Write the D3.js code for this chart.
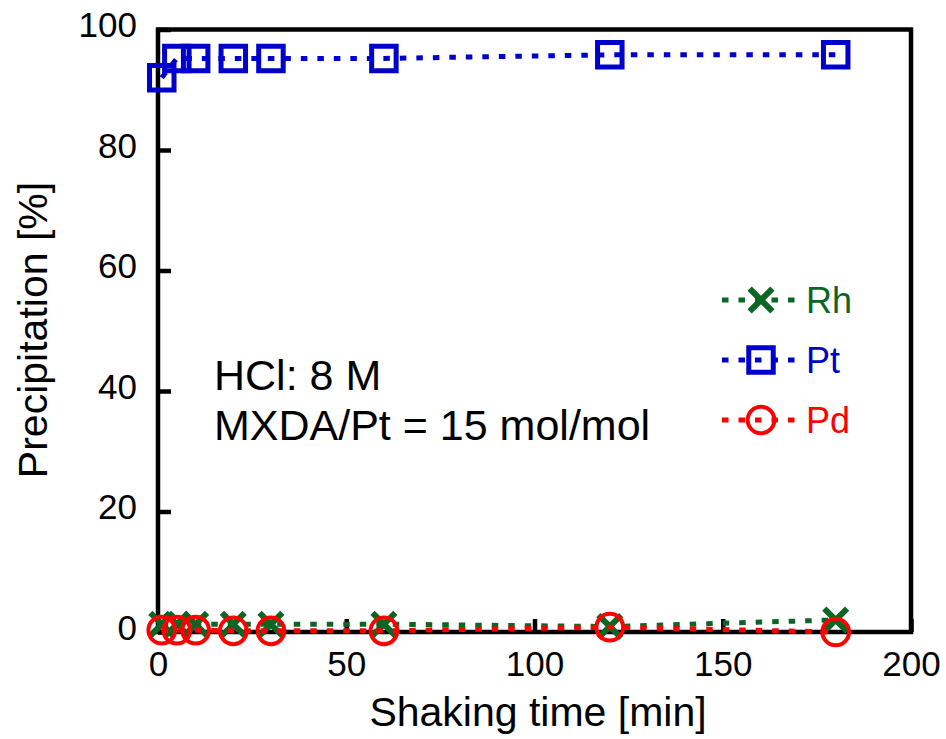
<!DOCTYPE html>
<html>
<head>
<meta charset="utf-8">
<script src="https://cdnjs.cloudflare.com/ajax/libs/d3/7.8.5/d3.min.js"></script>
<style>
	body { margin: 0; background: #ffffff; }
	text { font-family: "Liberation Sans", Arial, sans-serif; }
</style>
</head>
<body>
<div id="chart"></div>
<script>
// shaking time [min]
var times = [1, 5, 10, 20, 30, 60, 120, 180];
// precipitation [%]
var pt_vals = [92.0, 95.2, 95.2, 95.2, 95.2, 95.2, 95.8, 95.8];
var rh_vals = [1.3, 1.3, 1.3, 1.3, 1.3, 1.3, 0.9, 2.0];
var pd_vals = [0.3, 0.3, 0.3, 0.2, 0.2, 0.2, 0.8, 0.0];

var x_ticks = [0, 50, 100, 150, 200];
var y_ticks = [0, 20, 40, 60, 80, 100];
var series_names = ["Rh", "Pt", "Pd"];
var note_lines = ["HCl: 8 M", "MXDA/Pt = 15 mol/mol"];

var w = 946, h = 739;
var margin = {top: 29.5, right: 35, bottom: 107, left: 158};

var colors = {Rh: "#0b6623", Pt: "#0000cc", Pd: "#ff0000"};

// hollow X marker, d3 style symbol type
var symbol_x = {
	draw: function(ctx, size) {
		var r = Math.sqrt(size) / 2;
		ctx.moveTo(-r, -r);
		ctx.lineTo(r, r);
		ctx.moveTo(-r, r);
		ctx.lineTo(r, -r);
	}
};
var markers = {
	Rh: d3.symbol().type(symbol_x).size(520),
	Pt: d3.symbol().type(d3.symbolSquare).size(600),
	Pd: d3.symbol().type(d3.symbolCircle).size(560)
};

var series = [
	{name: "Rh", values: rh_vals},
	{name: "Pt", values: pt_vals},
	{name: "Pd", values: pd_vals}
];

var svg = d3.select("#chart")
	.append("svg")
	.attr("width", w)
	.attr("height", h);

var x = d3.scaleLinear()
	.domain([0, 200])
	.range([margin.left, w - margin.right]);

var y = d3.scaleLinear()
	.domain([0, 100])
	.range([h - margin.bottom, margin.top]);

// frame
svg.append("rect")
	.attr("x", x(0))
	.attr("y", y(100))
	.attr("width", x(200) - x(0))
	.attr("height", y(0) - y(100))
	.attr("fill", "none")
	.attr("stroke", "#000")
	.attr("stroke-width", 4.5);

// axes, ticks pointing inward
var x_axis = svg.append("g")
	.attr("transform", "translate(0," + y(0) + ")")
	.call(d3.axisBottom(x).tickValues(x_ticks).tickSize(-13).tickPadding(20).tickFormat(d3.format("d")));

var y_axis = svg.append("g")
	.attr("transform", "translate(" + x(0) + ",0)")
	.call(d3.axisLeft(y).tickValues(y_ticks).tickSize(-13).tickPadding(21).tickFormat(d3.format("d")));

[x_axis, y_axis].forEach(function(ax) {
	ax.select(".domain").remove();
	ax.selectAll(".tick line")
		.attr("stroke", "#000")
		.attr("stroke-width", 4.5);
	ax.selectAll(".tick text")
		.attr("font-size", "35px")
		.attr("font-family", "Liberation Sans, Arial, sans-serif")
		.attr("fill", "#000");
});
x_axis.selectAll(".tick text").attr("dy", "0.72em").attr("y", 19);
y_axis.selectAll(".tick text").attr("dy", "0.2em");

// axis titles
svg.append("text")
	.text("Shaking time [min]")
	.attr("x", 538)
	.attr("y", 726)
	.attr("text-anchor", "middle")
	.attr("font-size", "41px")
	.attr("fill", "#000");

svg.append("text")
	.text("Precipitation [%]")
	.attr("transform", "translate(47,330) rotate(-90)")
	.attr("text-anchor", "middle")
	.attr("font-size", "41px")
	.attr("fill", "#000");

// dotted lines then hollow markers
var line = d3.line()
	.x(function(d, i) { return x(times[i]); })
	.y(function(d) { return y(d); });

var groups = svg.selectAll("g.series")
	.data(series)
	.enter()
	.append("g")
	.attr("class", "series");

groups.append("path")
	.attr("d", function(d) { return line(d.values); })
	.attr("fill", "none")
	.attr("stroke", function(d) { return colors[d.name]; })
	.attr("stroke-width", 5)
	.attr("stroke-dasharray", "6.5,10");

groups.selectAll("path.mark")
	.data(function(d) {
		return d.values.map(function(v, i) { return {name: d.name, t: times[i], v: v}; });
	})
	.enter()
	.append("path")
	.attr("class", "mark")
	.attr("transform", function(d) { return "translate(" + x(d.t) + "," + y(d.v) + ")"; })
	.attr("d", function(d) { return markers[d.name](); })
	.attr("fill", "none")
	.attr("stroke", function(d) { return colors[d.name]; })
	.attr("stroke-width", function(d) { return d.name == "Rh" ? 6 : (d.name == "Pt" ? 5 : 4); });

// annotation
svg.append("g")
	.selectAll("text")
	.data(note_lines)
	.enter()
	.append("text")
	.text(function(d) { return d; })
	.attr("x", 214)
	.attr("y", function(d, i) { return 390 + i * 50; })
	.attr("font-size", "43px")
	.attr("fill", "#000");

// legend
var legend = svg.append("g")
	.selectAll("g")
	.data(series_names)
	.enter()
	.append("g")
	.attr("transform", function(d, i) { return "translate(0," + (300 + i * 60) + ")"; });

legend.append("line")
	.attr("x1", 722)
	.attr("x2", 797)
	.attr("y1", 0)
	.attr("y2", 0)
	.attr("stroke", function(d) { return colors[d]; })
	.attr("stroke-width", 5)
	.attr("stroke-dasharray", "6.5,10");

legend.append("path")
	.attr("transform", "translate(761,0)")
	.attr("d", function(d) { return markers[d](); })
	.attr("fill", "none")
	.attr("stroke", function(d) { return colors[d]; })
	.attr("stroke-width", function(d) { return d == "Rh" ? 6 : (d == "Pt" ? 5 : 4); });

legend.append("text")
	.text(function(d) { return d; })
	.attr("x", 806)
	.attr("y", 13)
	.attr("font-size", "36px")
	.attr("fill", function(d) { return colors[d]; });
</script>
</body>
</html>
